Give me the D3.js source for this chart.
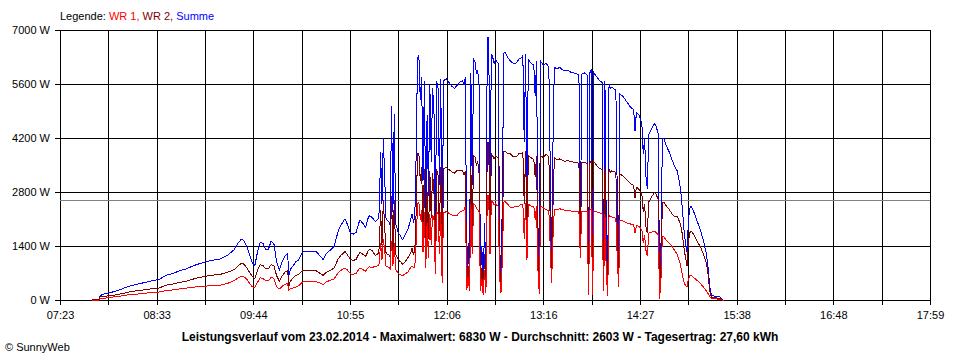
<!DOCTYPE html>
<html><head><meta charset="utf-8">
<script src="https://cdn.jsdelivr.net/npm/d3@7"></script>
<style>body{margin:0;background:#fff}svg{display:block}text{font-family:"Liberation Sans",Arial,sans-serif}</style>
</head><body><svg id="c" width="960" height="360"></svg>
<script>
const times = ["07:46","07:51","07:52","07:55","08:00","08:05","08:10","08:15","08:20","08:25","08:30","08:35","08:40","08:45","08:50","08:55","09:00","09:05","09:10","09:15","09:20","09:25","09:30","09:33","09:35","09:37","09:39","09:41","09:43","09:45","09:47","09:49","09:51","09:53","09:55","09:57","09:59","10:01","10:03","10:05","10:07","10:09","10:10","10:11","10:13","10:15","10:17","10:19","10:21","10:25","10:30","10:33","10:35","10:37","10:40","10:43","10:46","10:48","10:51","10:53","10:55","10:57","10:59","11:01","11:02","11:04","11:06","11:08","11:09","11:11","11:13","11:15","11:16","11:17","11:18","11:19","11:20","11:21","11:23","11:24","11:25","11:26","11:27","11:28","11:30","11:32","11:33","11:35","11:37","11:39","11:40","11:41","11:42","11:43","11:44","11:45","11:46","11:47","11:48","11:49","11:50","11:51","11:52","11:53","11:54","11:55","11:56","11:57","11:58","11:59","12:00","12:01","12:02","12:03","12:05","12:07","12:09","12:11","12:13","12:15","12:17","12:18","12:19","12:20","12:21","12:22","12:23","12:24","12:25","12:26","12:27","12:28","12:29","12:30","12:31","12:32","12:33","12:34","12:35","12:36","12:37","12:38","12:39","12:40","12:41","12:42","12:43","12:44","12:45","12:46","12:47","12:48","12:50","12:52","12:54","12:56","12:58","13:00","13:01","13:02","13:03","13:04","13:05","13:07","13:09","13:10","13:11","13:12","13:13","13:14","13:16","13:18","13:20","13:21","13:22","13:23","13:24","13:26","13:28","13:30","13:32","13:34","13:36","13:38","13:40","13:42","13:43","13:44","13:46","13:48","13:49","13:50","13:51","13:52","13:53","13:55","13:57","13:59","14:00","14:01","14:02","14:03","14:04","14:05","14:06","14:07","14:09","14:10","14:11","14:12","14:14","14:16","14:18","14:20","14:22","14:23","14:24","14:26","14:28","14:29","14:30","14:31","14:32","14:33","14:35","14:37","14:38","14:40","14:41","14:42","14:43","14:44","14:46","14:48","14:50","14:52","14:54","14:56","14:57","14:58","14:59","15:00","15:01","15:02","15:03","15:04","15:05","15:07","15:09","15:11","15:13","15:15","15:16","15:17","15:18","15:19","15:22","15:25","15:27","15:28"];
const wr1 = [5,10,40,60,85,105,135,155,170,190,205,220,255,275,300,320,345,360,375,390,400,440,520,590,625,615,560,460,365,330,470,588,570,510,510,605,570,360,300,370,420,440,270,300,320,350,380,450,500,500,490,450,410,480,520,560,720,780,847,780,690,680,700,800,840,800,760,860,870,860,880,900,950,1500,1050,1600,1300,880,860,820,1550,900,1500,800,700,660,640,690,740,860,900,850,870,1500,2500,2550,2100,2350,1250,2300,850,2000,1100,2250,1450,2200,2150,700,2300,2250,1200,2300,450,2280,2300,2260,2220,2200,2210,2300,2330,2350,2450,280,600,250,2500,1200,2500,2480,2400,2350,2300,250,550,150,800,200,2720,2730,1200,2600,2550,2480,2500,2460,2450,600,200,1050,2550,2560,2500,2400,2420,2430,2450,2500,2500,1600,2520,1050,2500,2450,2450,2100,2450,800,180,2440,2400,2350,2330,1400,450,1600,2350,2350,2380,2350,2340,2330,2320,2310,2300,2300,1100,2300,2320,2300,150,2350,2380,140,2300,2300,2270,2250,250,2250,700,120,2200,2180,2170,2150,2130,1100,340,2080,2060,2030,2000,1980,1960,1750,1940,1920,1830,1500,1700,1300,1150,1750,1770,1790,1780,1700,50,600,1660,1650,1560,1490,1400,1300,1180,950,780,600,450,380,346,550,640,648,620,560,500,430,346,250,200,150,80,40,40,35,5,0];
const wr2 = [15,20,90,110,125,155,195,235,260,280,305,325,395,425,470,500,555,600,635,660,680,730,800,910,955,945,860,740,635,570,780,922,910,820,820,935,900,640,500,630,730,780,380,500,580,650,670,750,780,780,770,700,650,720,780,840,1080,1170,1273,1170,1060,1040,1060,1200,1250,1200,1140,1290,1330,1290,1170,1200,1350,2350,1450,2600,1900,1220,1190,1130,2700,1300,2600,1200,1050,990,940,1010,1110,1240,1350,1200,1280,2300,3800,3800,3100,3450,1850,3400,1250,2800,1600,3350,2150,3300,2850,1000,3400,3250,1800,3450,650,3420,3450,3390,3340,3300,3370,3360,3370,3250,3350,420,900,400,3400,1800,3750,3720,3500,3600,3300,350,850,250,1200,300,4080,4100,1800,3800,3750,3670,3750,3720,3700,900,300,1550,3850,3880,3800,3800,3730,3720,3800,3800,3850,2500,3875,1650,3750,3700,3650,3200,3750,1200,270,3760,3700,3800,3720,2100,750,2400,3700,3650,3670,3630,3610,3630,3600,3590,3580,3560,1200,3570,3580,3550,250,3550,3620,210,3600,3500,3430,3400,350,3450,1100,180,3400,3320,3360,3350,3320,1700,520,3270,3240,3170,3100,3020,2990,2650,2940,2880,2750,2300,2500,1900,1750,2550,2680,2790,2780,2620,80,900,2540,2550,2440,2360,2250,2180,2170,2000,1850,1600,1300,1100,907,1500,1750,1800,1760,1640,1500,1370,1210,980,800,450,170,90,70,55,15,0];
const summe = [20,30,130,170,210,260,330,390,430,470,510,545,650,700,770,820,900,960,1010,1050,1080,1170,1320,1500,1580,1560,1420,1200,1000,900,1250,1510,1480,1330,1330,1540,1470,1000,800,1000,1150,1220,650,800,900,1000,1050,1200,1280,1280,1260,1150,1060,1200,1300,1400,1800,1950,2120,1950,1750,1720,1760,2000,2090,2000,1900,2150,2200,2150,2050,2100,2300,3850,2500,4200,3200,2100,2050,1950,5030,2300,4840,2000,1750,1650,1580,1700,1850,2100,2250,2050,2150,3800,6300,6350,5200,5800,3100,5700,2100,4800,2700,5600,3600,5500,5000,1700,5700,5500,3000,5750,1100,5700,5750,5650,5560,5500,5580,5660,5700,5600,5800,700,1500,650,5900,3000,6250,6200,5900,5950,5600,600,1400,400,2000,500,6800,6830,3000,6400,6300,6150,6250,6180,6150,1500,500,2600,6400,6440,6300,6200,6150,6150,6250,6300,6350,4100,6395,2700,6250,6150,6100,5300,6200,2000,450,6200,6100,6150,6050,3500,1200,4000,6050,6000,6050,5980,5950,5960,5920,5900,5880,5860,1210,5870,5900,5850,400,5900,6000,350,5900,5800,5700,5650,600,5700,1800,300,5600,5500,5530,5500,5450,2800,860,5350,5300,5200,5100,5000,4950,4400,4880,4800,4580,3800,4200,3200,2900,4300,4450,4580,4560,4320,130,1500,4200,4200,4000,3850,3650,3480,3350,2950,2630,2200,1750,1480,1250,2050,2390,2450,2380,2200,2000,1800,1556,1230,1000,600,250,130,110,90,20,0];
const yTicks = [0,1400,2800,4200,5600,7000];
const xTickLabels = ["07:23","","08:33","","09:44","","10:55","","12:06","","13:16","","14:27","","15:38","","16:48","","17:59"];
const average = 2603;
const legendParts = [["Legende: ","#000000"],["WR 1, ","#ff0000"],["WR 2, ","#800000"],["Summe","#0000ff"]];
const titleText = "Leistungsverlauf vom 23.02.2014 - Maximalwert: 6830 W - Durchschnitt: 2603 W - Tagesertrag: 27,60 kWh";
const copyright = "\u00A9 SunnyWeb";

const toMin = s => { const p = s.split(":").map(Number); return p[0]*60 + p[1]; };
const svg = d3.select("#c");
const t0 = toMin("07:23"), t1 = toMin("17:59");
const x = d3.scaleLinear().domain([t0, t1]).range([60, 930]);
const y = d3.scaleLinear().domain([0, 7000]).range([300, 30]);
const xt = d3.range(19).map(i => t0 + i*(t1 - t0)/18);

const gx = svg.append("g").attr("transform","translate(0,305)")
  .call(d3.axisBottom(x).tickValues(xt).tickFormat((d,i)=>xTickLabels[i]).tickSize(-275).tickPadding(6));
gx.select(".domain").remove();
gx.selectAll("line").attr("stroke","#000").attr("shape-rendering","crispEdges");
gx.selectAll("text").attr("font-size","11px").attr("font-family","'Liberation Sans',Arial,sans-serif").attr("fill","#000");

const gy = svg.append("g").attr("transform","translate(55,0)")
  .call(d3.axisLeft(y).tickValues(yTicks).tickFormat(d => d + " W").tickSize(-875).tickPadding(5));
gy.select(".domain").remove();
gy.selectAll("line").attr("stroke","#000").attr("shape-rendering","crispEdges");
gy.selectAll("text").attr("font-size","11px").attr("font-family","'Liberation Sans',Arial,sans-serif").attr("fill","#000");

svg.append("line").attr("x1",60).attr("x2",930).attr("y1",y(average)+0.5).attr("y2",y(average)+0.5)
  .attr("stroke","#808080").attr("shape-rendering","crispEdges");

const series = [[summe,"#0000ff"],[wr2,"#800000"],[wr1,"#ff0000"]];
const g = svg.append("g").attr("transform","translate(0.5,0.5)");
series.forEach(([vals,col]) => {
  const line = d3.line().x((d,i)=>x(toMin(times[i]))).y(d=>y(d));
  g.append("path").attr("d", line(vals)).attr("fill","none").attr("stroke",col).attr("stroke-width",1).attr("shape-rendering","crispEdges");
});

const lg = svg.append("text").attr("x",60).attr("y",20).attr("font-size","11px");
legendParts.forEach(([t,c]) => lg.append("tspan").attr("fill",c).text(t));

svg.append("text").attr("x",480).attr("y",341).attr("text-anchor","middle")
  .attr("font-size","12px").attr("font-weight","bold").attr("fill","#000").text(titleText);
svg.append("text").attr("x",5).attr("y",351).attr("font-size","11px").attr("fill","#000").text(copyright);
</script></body></html>
